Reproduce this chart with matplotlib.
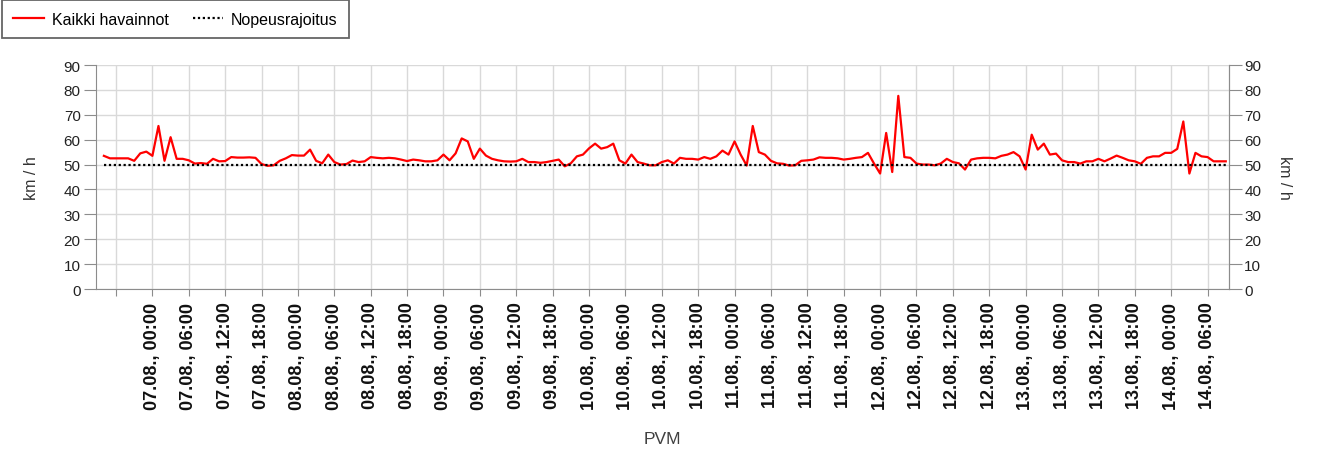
import matplotlib
matplotlib.use("Agg")
import matplotlib.pyplot as plt
import pandas as pd

# ---------------- data ----------------
series_names = ["Kaikki havainnot", "Nopeusrajoitus"]
start_time = "2021-08-06 16:00"          # first hourly observation
speeds = [
    53.5, 52.5, 52.5, 52.5, 52.5, 51.5, 54.5, 55.2, 53.5, 65.5, 51.5, 61.0, 52.3, 52.3,
    51.7, 50.4, 50.6, 50.3, 52.3, 51.3, 51.4, 53.0, 52.8, 52.8, 52.9, 52.7, 50.2,
    49.5, 49.7, 51.5, 52.5, 53.8, 53.6, 53.6, 56.0, 51.5, 50.5, 54.0, 51.0, 50.0, 50.2,
    51.6, 51.0, 51.3, 53.0, 52.7, 52.5, 52.7, 52.5, 52.0, 51.4, 52.0, 51.7, 51.3,
    51.3, 51.7, 54.0, 51.7, 54.5, 60.5, 59.3, 52.3, 56.4, 53.6, 52.3, 51.7, 51.3, 51.2,
    51.3, 52.3, 51.0, 51.0, 50.7, 51.0, 51.5, 52.0, 49.3, 50.5, 53.3, 54.0,
    56.5, 58.4, 56.4, 57.0, 58.4, 51.7, 50.4, 54.0, 51.0, 50.4, 49.7, 49.7, 51.0, 51.7,
    50.4, 52.7, 52.3, 52.3, 52.0, 53.0, 52.3, 53.3, 55.6, 54.0, 59.3, 54.0, 49.6, 65.5,
    55.0, 54.0, 51.5, 50.5, 50.3, 49.6, 49.7, 51.5, 51.7, 52.0, 52.9, 52.7, 52.7, 52.5,
    52.0, 52.3, 52.7, 53.0, 54.7, 50.4, 46.4, 62.7, 47.0, 77.6, 53.0, 52.7, 50.4, 50.0,
    50.0, 49.7, 50.4, 52.3, 51.0, 50.5, 48.0, 52.0, 52.5, 52.7, 52.7, 52.5, 53.5, 54.0,
    55.0, 53.3, 48.0, 62.0, 56.0, 58.4, 54.0, 54.4, 51.7, 51.0, 51.0, 50.4, 51.3,
    51.3, 52.3, 51.3, 52.4, 53.6, 52.7, 51.7, 51.3, 50.3, 52.7, 53.3, 53.3, 54.7, 54.7,
    56.3, 67.3, 46.4, 54.7, 53.3, 53.0, 51.3, 51.3, 51.3,
]
speed_limit = 50
tick_start = "2021-08-06 18:00"
tick_end = "2021-08-14 06:00"
tick_labels = [
    "",
    "07.08., 00:00", "07.08., 06:00", "07.08., 12:00", "07.08., 18:00",
    "08.08., 00:00", "08.08., 06:00", "08.08., 12:00", "08.08., 18:00",
    "09.08., 00:00", "09.08., 06:00", "09.08., 12:00", "09.08., 18:00",
    "10.08., 00:00", "10.08., 06:00", "10.08., 12:00", "10.08., 18:00",
    "11.08., 00:00", "11.08., 06:00", "11.08., 12:00", "11.08., 18:00",
    "12.08., 00:00", "12.08., 06:00", "12.08., 12:00", "12.08., 18:00",
    "13.08., 00:00", "13.08., 06:00", "13.08., 12:00", "13.08., 18:00",
    "14.08., 00:00", "14.08., 06:00",
]
y_ticks = [0, 10, 20, 30, 40, 50, 60, 70, 80, 90]
x_min = "2021-08-06 14:42"
x_max = "2021-08-14 09:32"

# ---------------- plot ----------------
plt.rcParams['font.family'] = ['Liberation Sans', 'DejaVu Sans']

W, H = 1320, 452
fig = plt.figure(figsize=(W / 100, H / 100), dpi=100)
ax = fig.add_axes([96 / W, 1 - 290 / H, (1229 - 96) / W, (290 - 66) / H])

times = pd.date_range(start_time, periods=len(speeds), freq="h")
limit = [speed_limit] * len(speeds)

ax.plot(times, speeds, color="#ff0000", lw=1.6, label=series_names[0], zorder=3)
ax.plot(times, limit, color="black", lw=1.6, linestyle=(0, (1, 1.2)),
        label=series_names[1], zorder=4)

ax.set_ylim(0, 90)
ax.set_yticks(y_ticks)
ax.set_xlim(pd.Timestamp(x_min), pd.Timestamp(x_max))
ticks = pd.date_range(tick_start, tick_end, freq="6h")
ax.set_xticks(ticks)
ax.set_xticklabels(tick_labels, rotation=90, fontsize=13, fontweight="bold", color="#111111")

ax.grid(True, color="#d9d9d9", lw=1)
ax.set_axisbelow(True)
for s in ["left", "right", "bottom"]:
    ax.spines[s].set_color("#8c8c8c")
ax.spines["top"].set_visible(False)

ax.tick_params(axis="x", length=5, color="#8c8c8c", pad=4)
ax.tick_params(axis="y", length=9, color="#8c8c8c", labelsize=11, labelcolor="#222222", pad=2)

sec = ax.secondary_yaxis("right")
sec.set_yticks(y_ticks)
sec.tick_params(axis="y", length=9, color="#8c8c8c", labelsize=11, labelcolor="#222222", pad=2)
sec.spines["right"].set_color("#8c8c8c")
sec.set_ylabel("km / h", rotation=270, fontsize=11.5, color="#333333", labelpad=22)

ax.set_ylabel("km / h", fontsize=11.5, color="#333333", labelpad=18)
ax.set_xlabel("PVM", fontsize=12.5, color="#404040", labelpad=16)

leg = fig.legend(loc="upper left", bbox_to_anchor=(0.0015, 0.997), ncol=2, frameon=True,
                 fancybox=False, edgecolor="#404040", fontsize=11.5, handlelength=1.9,
                 columnspacing=1.5, borderpad=0.72, handletextpad=0.5,
                 borderaxespad=0)
leg.get_frame().set_linewidth(1.3)

fig.savefig("out.png", dpi=100)
